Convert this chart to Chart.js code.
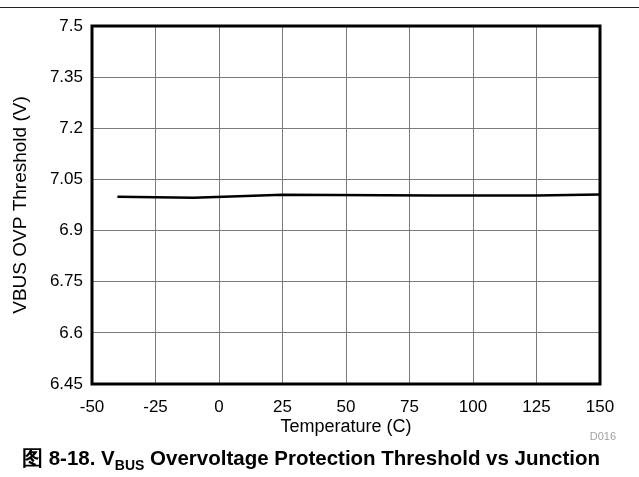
<!DOCTYPE html>
<html>
<head>
<meta charset="utf-8">
<script src="https://cdn.jsdelivr.net/npm/chart.js@4"></script>
<style>
  html, body { margin: 0; padding: 0; background: #fff; }
  body { width: 639px; height: 477px; position: relative; overflow: hidden; font-family: 'Liberation Sans', Arial, sans-serif; }
  .rule { position: absolute; left: 0; top: 7px; width: 639px; height: 0; border-top: 1.5px solid #222; }
  .wrap { position: absolute; left: 0; top: 0; width: 639px; height: 440px; }
  .code { position: absolute; right: 23px; top: 430px; font-size: 11px; color: #a0a0a0; }
  .caption { position: absolute; left: 22px; top: 444px; font-size: 20.5px; font-weight: bold; color: #000; white-space: nowrap; }
  .caption sub { font-size: 14px; vertical-align: -5px; line-height: 0; }
</style>
</head>
<body>
<div class="rule"></div>
<div class="wrap"><canvas id="chart"></canvas></div>
<div class="code">D016</div>
<div class="caption">图 8-18. V<sub>BUS</sub> Overvoltage Protection Threshold vs Junction</div>
<script>
// ==============================
//  DATA
// ==============================
const TEMPS   = [-40, -10, 25, 85, 125, 150];
const VOLTS   = [6.999, 6.996, 7.005, 7.003, 7.003, 7.006];
const X_TICKS = [-50, -25, 0, 25, 50, 75, 100, 125, 150];
const Y_TICKS = [6.45, 6.6, 6.75, 6.9, 7.05, 7.2, 7.35, 7.5];

const FONT = "'Liberation Sans', Arial, sans-serif";

// frame round the plot area
const framePlugin = {
  id: 'frame',
  afterDraw(chart) {
    const { ctx, chartArea: a } = chart;
    ctx.save();
    ctx.strokeStyle = '#000';
    ctx.lineWidth = 3;
    ctx.strokeRect(a.left, a.top, a.right - a.left, a.bottom - a.top);
    ctx.restore();
  }
};

new Chart(document.getElementById('chart'), {
  type: 'line',
  data: {
    datasets: [{
      data: TEMPS.map((t, i) => ({ x: t, y: VOLTS[i] })),
      borderColor: '#000',
      borderWidth: 2.5,
      pointRadius: 0,
      tension: 0,
      fill: false,
    }]
  },
  options: {
    responsive: true,
    maintainAspectRatio: false,
    animation: false,
    layout: { padding: { top: 26, right: 39, left: 0, bottom: 0 } },
    plugins: { legend: { display: false }, tooltip: { enabled: false } },
    scales: {
      x: {
        type: 'linear', min: -50, max: 150,
        afterBuildTicks: s => { s.ticks = X_TICKS.map(v => ({ value: v })); },
        afterFit: s => { s.height = 56; },
        grid: { color: '#7a7a7a', lineWidth: 1, drawTicks: false },
        border: { display: false },
        ticks: { color: '#000', padding: 13, font: { family: FONT, size: 17 }, callback: v => String(v), maxRotation: 0, autoSkip: false },
        title: { display: true, text: 'Temperature (C)', color: '#000', font: { family: FONT, size: 18 }, padding: { top: 0, bottom: 2 } }
      },
      y: {
        type: 'linear', min: 6.45, max: 7.5,
        afterBuildTicks: s => { s.ticks = Y_TICKS.map(v => ({ value: v })); },
        afterFit: s => { s.width = 92; },
        grid: { color: '#7a7a7a', lineWidth: 1, drawTicks: false },
        border: { display: false },
        ticks: { color: '#000', padding: 9, font: { family: FONT, size: 17 }, callback: v => String(v), autoSkip: false },
        title: { display: true, text: 'VBUS OVP Threshold (V)', color: '#000', font: { family: FONT, size: 19 }, padding: { top: 9, bottom: 0 } }
      }
    }
  },
  plugins: [framePlugin]
});
</script>
</body>
</html>
